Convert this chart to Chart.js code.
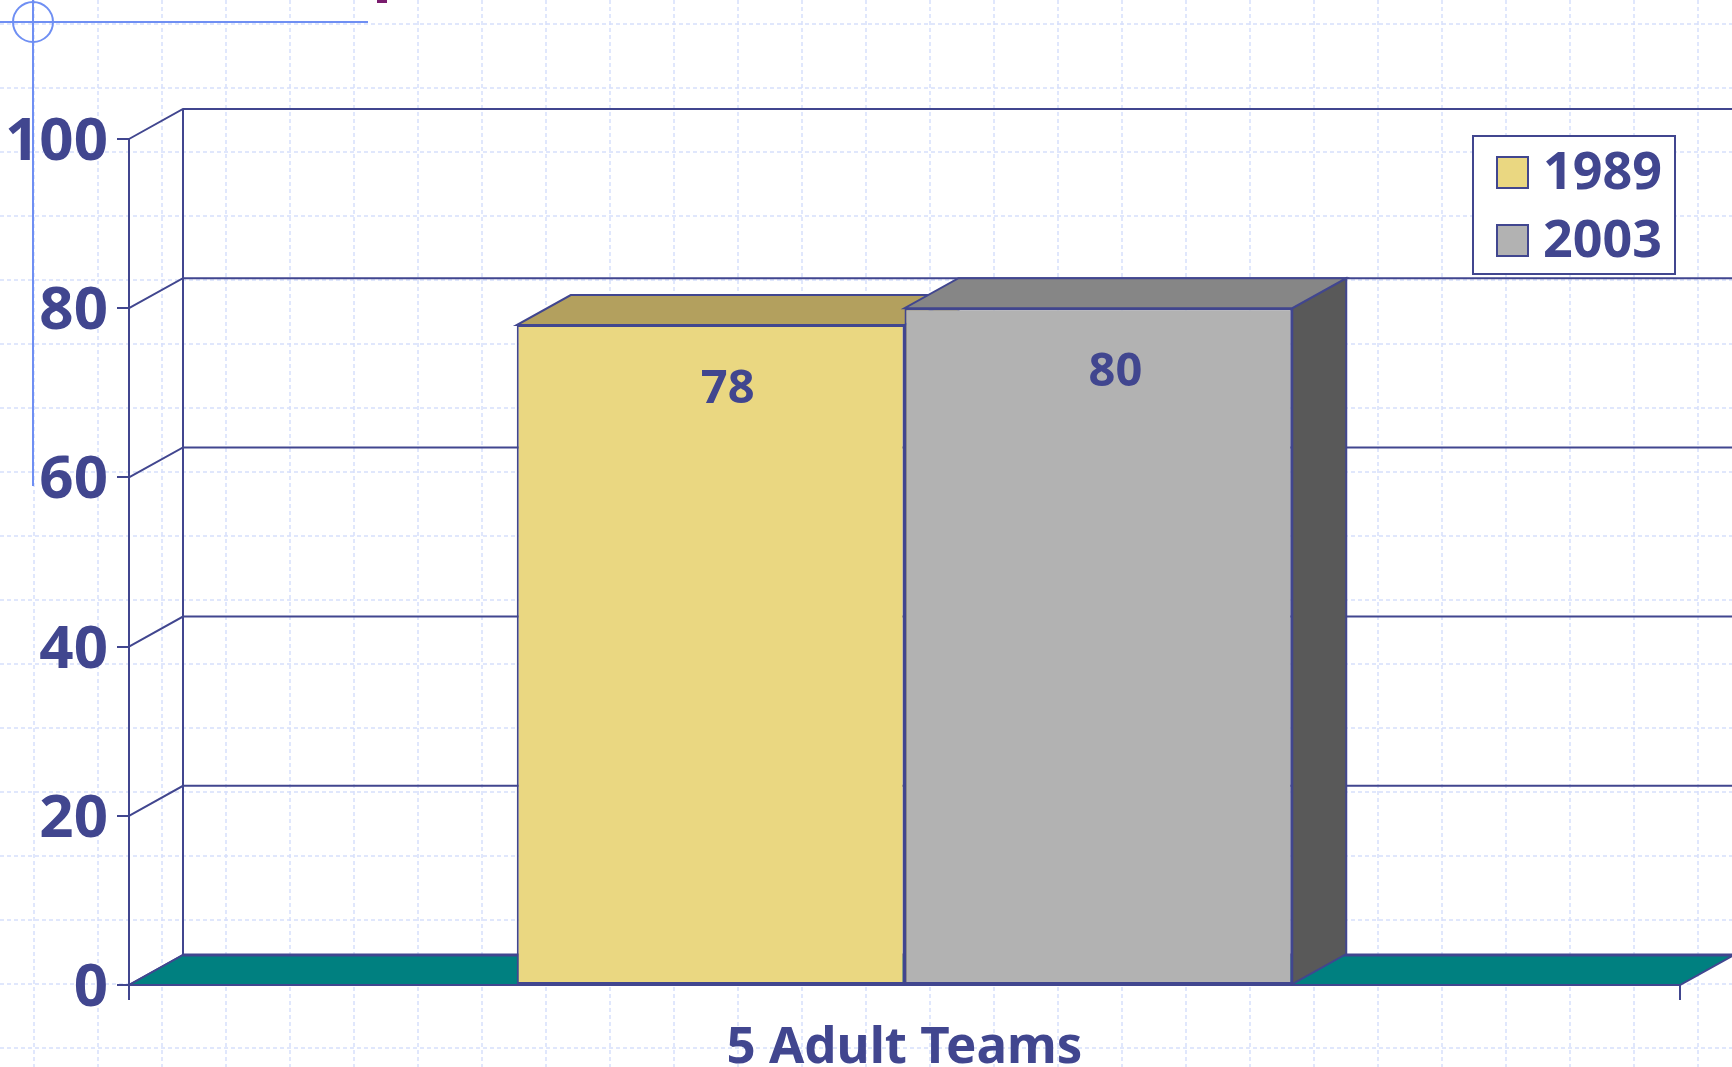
<!DOCTYPE html>
<html>
<head>
<meta charset="utf-8">
<script src="https://cdn.jsdelivr.net/npm/chart.js@4.4.1/dist/chart.umd.min.js"></script>
<style>
  html, body { margin: 0; padding: 0; background: #fff; }
  #wrap { width: 1732px; height: 1067px; }
</style>
</head>
<body>
<div id="wrap"><canvas id="teamsChart" width="1732" height="1067"></canvas></div>
<script>
// data
const categories = ['5 Adult Teams'];
const seriesNames = ['1989', '2003'];
const values1989 = [78];
const values2003 = [80];
const yTicks = [0, 20, 40, 60, 80, 100];

const INK = '#41468f';
const FONT = '"Noto Sans", "DejaVu Sans", sans-serif';
const DX = 54, DY = 30; // depth of the 3d box

const faces = [
    { front: '#ead781', top: '#b3a05e', side: '#8a7a40' },
    { front: '#b2b2b2', top: '#868686', side: '#595959' }
];

function poly(ctx, pts, fill) {
    ctx.beginPath();
    ctx.moveTo(pts[0][0], pts[0][1]);
    for (let i = 1; i < pts.length; i++) ctx.lineTo(pts[i][0], pts[i][1]);
    ctx.closePath();
    if (fill) { ctx.fillStyle = fill; ctx.fill(); }
    ctx.strokeStyle = INK;
    ctx.lineWidth = 2;
    ctx.stroke();
}

const depthPlugin = {
    id: 'depth3d',
    // slide background: dashed blue grid + template marks
    beforeDraw(chart) {
        const ctx = chart.ctx, W = chart.width, H = chart.height;
        ctx.save();
        ctx.fillStyle = '#fff';
        ctx.fillRect(0, 0, W, H);
        ctx.strokeStyle = '#d6dffb';
        ctx.lineWidth = 1.5;
        ctx.setLineDash([4, 3]);
        for (let x = 34; x < W; x += 64) {
            ctx.beginPath(); ctx.moveTo(x, 0); ctx.lineTo(x, H); ctx.stroke();
        }
        for (let y = 24; y < H; y += 64) {
            ctx.beginPath(); ctx.moveTo(0, y); ctx.lineTo(W, y); ctx.stroke();
        }
        ctx.setLineDash([]);
        ctx.strokeStyle = '#6f8ff3';
        ctx.lineWidth = 2;
        ctx.beginPath(); ctx.moveTo(0, 22); ctx.lineTo(368, 22); ctx.stroke();
        ctx.beginPath(); ctx.moveTo(33, 0); ctx.lineTo(33, 486); ctx.stroke();
        ctx.beginPath(); ctx.arc(33, 22, 20, 0, Math.PI * 2); ctx.stroke();
        ctx.fillStyle = '#7a1d6e';
        ctx.fillRect(377, 0, 10, 3);
        ctx.restore();
    },
    // walls, floor and the hidden faces of the boxes
    beforeDatasetsDraw(chart) {
        const ctx = chart.ctx;
        const { left, right, bottom } = chart.chartArea;
        const y = chart.scales.y;
        ctx.save();
        ctx.strokeStyle = INK;
        ctx.lineWidth = 2;
        yTicks.forEach(v => {
            const py = y.getPixelForValue(v);
            ctx.beginPath();
            ctx.moveTo(left, py);
            ctx.lineTo(left + DX, py - DY);
            ctx.lineTo(chart.width, py - DY);
            ctx.stroke();
        });
        const topY = y.getPixelForValue(yTicks[yTicks.length - 1]);
        ctx.beginPath();
        ctx.moveTo(left + DX, topY - DY);
        ctx.lineTo(left + DX, bottom - DY);
        ctx.stroke();

        // floor
        poly(ctx, [[left, bottom], [right, bottom], [right + DX, bottom - DY], [left + DX, bottom - DY]], '#008080');
        ctx.lineWidth = 3;
        ctx.beginPath(); ctx.moveTo(left + DX, bottom - DY); ctx.lineTo(right + DX, bottom - DY); ctx.stroke();

        chart.data.datasets.forEach((ds, i) => {
            chart.getDatasetMeta(i).data.forEach(bar => {
                const half = bar.width / 2;
                const x0 = bar.x - half, x1 = bar.x + half, t = bar.y, b = bar.base;
                poly(ctx, [[x1, t], [x1 + DX, t - DY], [x1 + DX, b - DY], [x1, b]], faces[i].side);
                poly(ctx, [[x0, t], [x1, t], [x1 + DX, t - DY], [x0 + DX, t - DY]], faces[i].top);
            });
        });
        ctx.restore();
    },
    afterDatasetsDraw(chart) {
        const ctx = chart.ctx;
        ctx.save();
        ctx.fillStyle = INK;
        ctx.font = 'bold 47px ' + FONT;
        ctx.textAlign = 'center';
        ctx.textBaseline = 'middle';
        chart.data.datasets.forEach((ds, i) => {
            chart.getDatasetMeta(i).data.forEach((bar, j) => {
                ctx.fillText(String(ds.data[j]), bar.x + 17, bar.y + 64);
            });
        });
        ctx.restore();
    },
    // legend box top right
    afterDraw(chart) {
        const ctx = chart.ctx;
        ctx.save();
        ctx.fillStyle = '#fff';
        ctx.fillRect(1473, 136, 202, 138);
        ctx.strokeStyle = INK;
        ctx.lineWidth = 2;
        ctx.strokeRect(1473, 136, 202, 138);
        ctx.font = 'bold 52px ' + FONT;
        ctx.textBaseline = 'middle';
        chart.data.datasets.forEach((ds, i) => {
            const rowY = 172 + i * 68;
            ctx.fillStyle = ds.backgroundColor;
            ctx.fillRect(1497, rowY - 15, 31, 31);
            ctx.strokeRect(1497, rowY - 15, 31, 31);
            ctx.fillStyle = INK;
            ctx.fillText(ds.label, 1543, rowY + 2);
        });
        ctx.restore();
    }
};

new Chart(document.getElementById('teamsChart'), {
    type: 'bar',
    data: {
        labels: categories,
        datasets: [
            {
                label: seriesNames[0],
                data: values1989,
                backgroundColor: faces[0].front,
                borderColor: INK,
                borderWidth: 2,
                borderSkipped: false
            },
            {
                label: seriesNames[1],
                data: values2003,
                backgroundColor: faces[1].front,
                borderColor: INK,
                borderWidth: 2,
                borderSkipped: false
            }
        ]
    },
    options: {
        responsive: false,
        animation: false,
        layout: { padding: { top: 139, right: 52, left: 0, bottom: 0 } },
        datasets: { bar: { categoryPercentage: 0.5, barPercentage: 1.0 } },
        plugins: {
            legend: { display: false },
            tooltip: { enabled: false }
        },
        scales: {
            x: {
                afterFit: s => { s.height = 82; },
                grid: { drawOnChartArea: false, drawTicks: true, tickLength: 15, color: INK, lineWidth: 2 },
                border: { display: true, color: INK, width: 2 },
                ticks: { color: INK, padding: 18, font: { family: FONT, size: 51, weight: 'bold' } }
            },
            y: {
                min: 0,
                max: 100,
                afterFit: s => { s.width = 129; },
                afterBuildTicks: s => { s.ticks = yTicks.map(v => ({ value: v })); },
                grid: { drawOnChartArea: false, drawTicks: true, tickLength: 12, color: INK, lineWidth: 2 },
                border: { display: true, color: INK, width: 2 },
                ticks: { color: INK, padding: 9, labelOffset: 4, font: { family: FONT, size: 60, weight: 'bold' } }
            }
        }
    },
    plugins: [depthPlugin]
});
</script>
</body>
</html>
